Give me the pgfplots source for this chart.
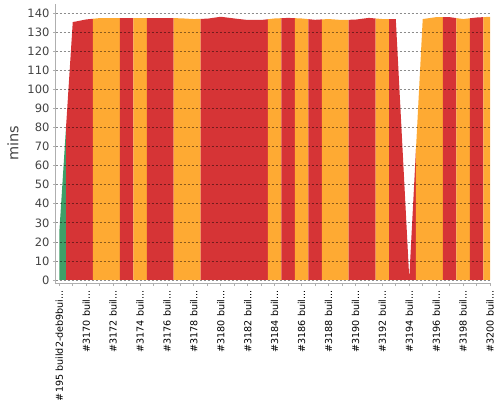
\documentclass[border=0pt]{standalone}
\usepackage{fontspec}
\setmainfont{DejaVu Sans}
\usepackage{pgfplots}
\pgfplotsset{compat=1.18}
\definecolor{jred}{RGB}{214,52,54}
\definecolor{jyel}{RGB}{254,170,51}
\definecolor{jgrn}{RGB}{64,158,104}
\definecolor{axgray}{RGB}{175,175,175}
\definecolor{txtgray}{RGB}{68,68,68}
\protected\def\tdots{.\kern0pt.\kern0pt.}
\begin{document}
\begin{tikzpicture}
\begin{axis}[
  name=ax,
  scale only axis,
  width=435.4bp, height=279.5bp,
  xmin=-0.267, xmax=32.08,
  ymin=-1.84, ymax=144.9,
  axis x line*=bottom, axis y line*=left,
  axis line style={axgray, line width=0.8bp, -},
  axis on top,
  tick align=outside,
  major tick length=2.5bp,
  tick style={axgray, line width=0.8bp},
  xtick={0,...,32},
  xticklabels={\#195 build2-deb9bui\tdots,,\#3170 buil\tdots,,\#3172 buil\tdots,,\#3174 buil\tdots,,\#3176 buil\tdots,,\#3178 buil\tdots,,\#3180 buil\tdots,,\#3182 buil\tdots,,\#3184 buil\tdots,,\#3186 buil\tdots,,\#3188 buil\tdots,,\#3190 buil\tdots,,\#3192 buil\tdots,,\#3194 buil\tdots,,\#3196 buil\tdots,,\#3198 buil\tdots,,\#3200 buil\tdots},
  ytick={0,10,...,140},
  ymajorgrids,
  major grid style={black, opacity=0.45, dash pattern=on 2.5bp off 1.5bp, line width=0.8bp},
  /pgf/number format/assume math mode=true,
  yticklabel style={font=\fontsize{11.5bp}{12bp}\selectfont, text=txtgray, inner sep=0pt, xshift=-3.6bp},
  xticklabel style={font=\fontsize{9.6bp}{10bp}\selectfont, text=black, yshift=-4bp, rotate=90, anchor=east, inner sep=0pt},
  every axis y label/.style={at={(axis description cs:-0.098,0.503)}, rotate=90, anchor=center},
  ylabel={mins},
  ylabel style={font=\fontsize{14.5bp}{15bp}\selectfont, text=txtgray},
]
% #195 (success)
\addplot[fill=jgrn, draw=none] coordinates {(0,0) (0,25) (0.5,80.2) (0.5,0)};
% #3169-#3170 failed
\addplot[fill=jred, draw=none] coordinates {(0.5,0) (0.5,80.2) (1,135.4) (2,136.8) (2.5,137.15) (2.5,0)};
% #3171-#3172 unstable
\addplot[fill=jyel, draw=none] coordinates {(2.5,0) (2.5,137.15) (3,137.5) (4,137.5) (4.5,137.5) (4.5,0)};
% #3173
\addplot[fill=jred, draw=none] coordinates {(4.5,0) (4.5,137.5) (5,137.5) (5.5,137.5) (5.5,0)};
% #3174
\addplot[fill=jyel, draw=none] coordinates {(5.5,0) (5.5,137.5) (6,137.5) (6.5,137.5) (6.5,0)};
% #3175-#3176
\addplot[fill=jred, draw=none] coordinates {(6.5,0) (6.5,137.5) (7,137.5) (8,137.5) (8.5,137.45) (8.5,0)};
% #3177-#3178
\addplot[fill=jyel, draw=none] coordinates {(8.5,0) (8.5,137.45) (9,137.4) (10,137.0) (10.5,137.1) (10.5,0)};
% #3179-#3183
\addplot[fill=jred, draw=none] coordinates {(10.5,0) (10.5,137.1) (11,137.2) (12,138.2) (13,137.3) (14,136.5) (15,136.5) (15.5,136.9) (15.5,0)};
% #3184
\addplot[fill=jyel, draw=none] coordinates {(15.5,0) (15.5,136.9) (16,137.3) (16.5,137.45) (16.5,0)};
% #3185
\addplot[fill=jred, draw=none] coordinates {(16.5,0) (16.5,137.45) (17,137.6) (17.5,137.45) (17.5,0)};
% #3186
\addplot[fill=jyel, draw=none] coordinates {(17.5,0) (17.5,137.45) (18,137.3) (18.5,136.95) (18.5,0)};
% #3187
\addplot[fill=jred, draw=none] coordinates {(18.5,0) (18.5,136.95) (19,136.6) (19.5,136.8) (19.5,0)};
% #3188-#3189
\addplot[fill=jyel, draw=none] coordinates {(19.5,0) (19.5,136.8) (20,137.0) (21,136.5) (21.5,136.6) (21.5,0)};
% #3190-#3191
\addplot[fill=jred, draw=none] coordinates {(21.5,0) (21.5,136.6) (22,136.7) (23,137.6) (23.5,137.3) (23.5,0)};
% #3192
\addplot[fill=jyel, draw=none] coordinates {(23.5,0) (23.5,137.3) (24,137.0) (24.5,137.0) (24.5,0)};
% #3193-#3194
\addplot[fill=jred, draw=none] coordinates {(24.5,0) (24.5,137.0) (25,137.0) (26,0.8) (26.5,68.9) (26.5,0)};
% #3195-#3196
\addplot[fill=jyel, draw=none] coordinates {(26.5,0) (26.5,68.9) (27,137.0) (28,138.0) (28.5,138.0) (28.5,0)};
% #3197
\addplot[fill=jred, draw=none] coordinates {(28.5,0) (28.5,138.0) (29,138.0) (29.5,137.5) (29.5,0)};
% #3198
\addplot[fill=jyel, draw=none] coordinates {(29.5,0) (29.5,137.5) (30,137.0) (30.5,137.4) (30.5,0)};
% #3199
\addplot[fill=jred, draw=none] coordinates {(30.5,0) (30.5,137.4) (31,137.8) (31.5,138.0) (31.5,0)};
% #3200
\addplot[fill=jyel, draw=none] coordinates {(31.5,0) (31.5,138.0) (32,138.2) (32,0)};
\end{axis}
\pgfresetboundingbox
\path[use as bounding box] (ax.south west) ++(-55.7bp,-116.5bp) rectangle ++(500bp,400bp);
\end{tikzpicture}
\end{document}
